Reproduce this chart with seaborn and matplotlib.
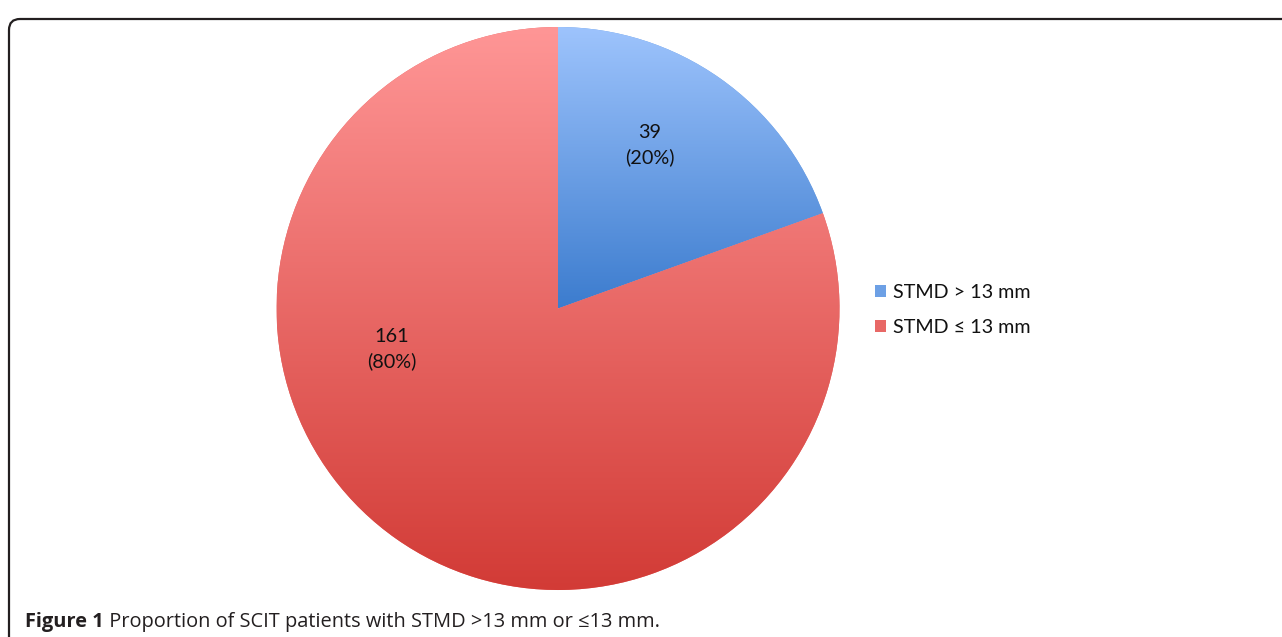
import numpy as np
import seaborn as sns
import matplotlib.pyplot as plt
from matplotlib.patches import FancyBboxPatch

# data
categories = ['STMD > 13 mm', 'STMD ≤ 13 mm']
counts = [39, 161]
top_colors = ['#9EC4FD', '#FF9696']
bottom_colors = ['#3C7CCE', '#D23B36']
label_pos = [(650, 492), (392, 288)]  # label centres, pixels from bottom-left

sns.set_theme(style='white')
plt.rcParams['font.family'] = ['Lato', 'DejaVu Sans']

W, H = 1282, 637
fig = plt.figure(figsize=(W / 100, H / 100), dpi=100)
ax = fig.add_axes([0, 0, 1, 1])

mid_colors = [sns.blend_palette([t, b], 3)[1] for t, b in zip(top_colors, bottom_colors)]
wedges, _ = ax.pie(counts, colors=mid_colors, startangle=90, counterclock=False,
                   center=(558, H - 308.5), radius=281.5,
                   wedgeprops=dict(linewidth=0))

# vertical gradient in each slice, clipped to the slice
grad = np.linspace(0, 1, 256).reshape(-1, 1)
for w, t, b in zip(wedges, top_colors, bottom_colors):
    bb = w.get_path().get_extents()
    cmap = sns.blend_palette([t, b], as_cmap=True)
    im = ax.imshow(grad, cmap=cmap, extent=[bb.x0, bb.x1, bb.y0, bb.y1],
                   origin='upper', aspect='auto', interpolation='bicubic', zorder=2)
    im.set_clip_path(w)

total = sum(counts)
for v, (x, y) in zip(counts, label_pos):
    pct = round(100 * v / total)
    ax.text(x, y, f'{v}\n({pct}%)', ha='center', va='center', fontsize=14.3,
            color='#111111', linespacing=1.5, zorder=3)

leg = ax.legend(wedges, categories, loc='center left', frameon=False,
                bbox_to_anchor=(867 / W, 1 - 310 / H), fontsize=14.2,
                handlelength=0.55, handleheight=0.55, handletextpad=0.35,
                labelspacing=0.9, borderaxespad=0)
for txt in leg.get_texts():
    txt.set_color('#111111')

# frame with rounded top-left corner
frame = FancyBboxPatch((9, -60), 1400, H - 10 + 60 - 9,
                       boxstyle='round,pad=0,rounding_size=11',
                       fill=False, edgecolor='#231F20', linewidth=1.6, zorder=4)
ax.add_patch(frame)

ax.set_xlim(0, W)
ax.set_ylim(0, H)
ax.set_aspect('auto')
ax.axis('off')

# caption
cap_font = ['Open Sans', 'DejaVu Sans']
t1 = ax.text(25, 10, 'Figure 1', fontsize=14.4, fontweight='bold', color='#231F20',
             va='baseline', ha='left', family=cap_font)
ax.annotate(' Proportion of SCIT patients with STMD >13 mm or ≤13 mm.', xy=(1, 0),
            xycoords=t1, va='bottom', ha='left', fontsize=14.4, color='#231F20',
            family=cap_font)

fig.savefig('out.png', dpi=100)
